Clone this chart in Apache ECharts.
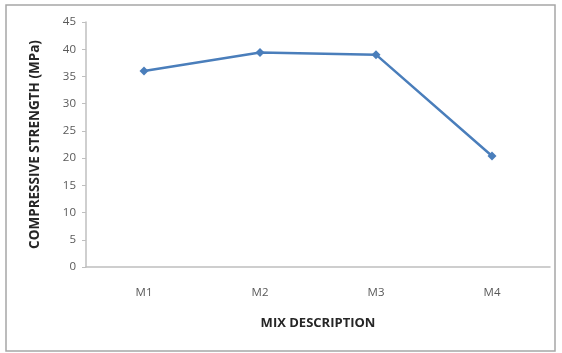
<!DOCTYPE html>
<html>
<head>
<meta charset="utf-8">
<script src="https://cdn.jsdelivr.net/npm/echarts@6/dist/echarts.min.js"></script>
<style>
  html, body { margin: 0; padding: 0; background: #fff; }
  #chart { width: 562px; height: 353px; }
</style>
</head>
<body>
<div id="chart"></div>
<script>
// Mix designations and their compressive strength (MPa)
const mixes = ['M1', 'M2', 'M3', 'M4'];
const strength = [36.0, 39.4, 39.0, 20.4];
const yTicks = { min: 0, max: 45, step: 5 };

const chart = echarts.init(document.getElementById('chart'), null, { renderer: 'canvas' });
const labelFont = 'Open Sans, Liberation Sans, sans-serif';

chart.setOption({
  animation: false,
  backgroundColor: '#ffffff',
  graphic: [{
    type: 'rect',
    shape: { x: 6, y: 5, width: 549, height: 346 },
    style: { fill: 'none', stroke: '#a6a6a6', lineWidth: 1.5 },
    silent: true
  }],
  grid: { left: 86, right: 12, top: 22, bottom: 86 },
  xAxis: {
    type: 'category',
    data: mixes,
    boundaryGap: true,
    name: 'MIX DESCRIPTION',
    nameLocation: 'middle',
    nameGap: 50,
    nameTextStyle: { fontFamily: labelFont, fontWeight: 'bold', fontSize: 13, color: '#262626' },
    axisLine: { lineStyle: { color: '#bfbfbf', width: 1.5 } },
    axisTick: { show: false },
    axisLabel: { fontFamily: labelFont, fontSize: 11.5, color: '#595959', margin: 20 },
    splitLine: { show: false }
  },
  yAxis: {
    type: 'value',
    min: yTicks.min,
    max: yTicks.max,
    interval: yTicks.step,
    name: 'COMPRESSIVE STRENGTH (MPa)',
    nameLocation: 'middle',
    nameGap: 44,
    nameTextStyle: { fontFamily: labelFont, fontWeight: 'bold', fontSize: 13.5, color: '#262626' },
    axisLine: { show: true, lineStyle: { color: '#bfbfbf', width: 1.5 } },
    axisTick: { show: true, inside: false, length: 4, lineStyle: { color: '#bfbfbf' } },
    axisLabel: { fontFamily: labelFont, fontSize: 11.5, color: '#595959', margin: 10 },
    splitLine: { show: false }
  },
  series: [{
    type: 'line',
    data: strength,
    symbol: 'diamond',
    symbolSize: 9,
    lineStyle: { color: '#4a7ebb', width: 2.5 },
    itemStyle: { color: '#4a7ebb' }
  }]
});
</script>
</body>
</html>
